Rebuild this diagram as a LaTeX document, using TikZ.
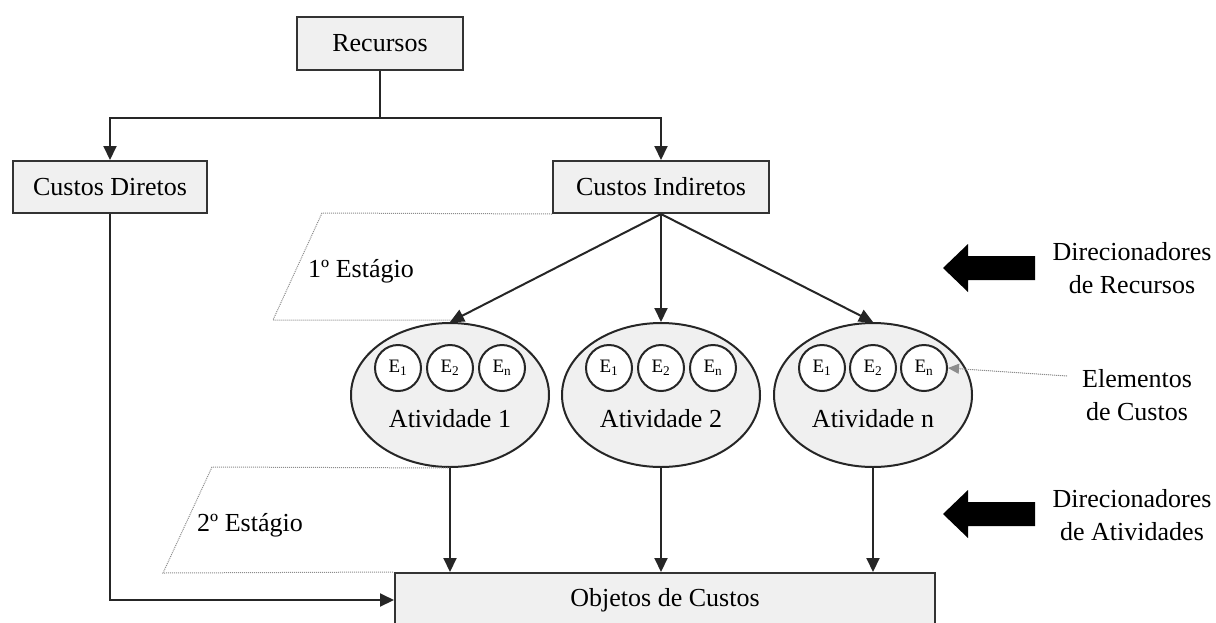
\documentclass[tikz,border=0pt]{standalone}
\usepackage{fontspec}
\setmainfont{Liberation Serif}
\usetikzlibrary{arrows.meta,shapes.geometric}
\tikzset{
  caixa/.style={draw=black!80, fill=black!6, line width=2pt, inner sep=0pt},
  ativ/.style={ellipse, draw=black!85, fill=black!6, line width=2pt, minimum width=198pt, minimum height=144pt},
  elem/.style={circle, draw=black!85, fill=white, line width=2pt, minimum size=46pt, inner sep=0pt, font=\fontsize{19pt}{22pt}\selectfont},
  estagio/.style={draw=black!45, line width=1pt, densely dotted},
  fluxo/.style={->, line width=2pt, draw=black!85},
}
% seta grossa (direcionadores), a partir da ponta
\def\blocoseta{-- ++(25,24) -- ++(0,-12) -- ++(67,0) -- ++(0,-24) -- ++(-67,0) -- ++(0,-12) -- cycle}

\begin{document}
\begin{tikzpicture}[x=1pt, y=1pt, >={Triangle[length=14pt,width=13pt]}, font=\fontsize{26pt}{33pt}\selectfont]
  \useasboundingbox (0,0) rectangle (1216,-622);
  \clip (0,0) rectangle (1216,-622);
  % caixas
  \node[caixa, minimum width=166pt, minimum height=53pt] (rec) at (380,-43) {Recursos};
  \node[caixa, minimum width=194pt, minimum height=52pt] (cdir) at (110,-187) {Custos Diretos};
  \node[caixa, minimum width=216pt, minimum height=52pt] (cind) at (661,-187) {Custos Indiretos};
  \node[caixa, minimum width=540pt, minimum height=54pt] (obj) at (665,-600) {Objetos de Custos};
  % atividades
  \node[ativ] (at1) at (450,-395) {};
  \node[ativ] (at2) at (661,-395) {};
  \node[ativ] (atn) at (873,-395) {};
  \node (lat1) at ([yshift=-24pt]at1.center) {Atividade 1};
  \node (lat2) at ([yshift=-24pt]at2.center) {Atividade 2};
  \node (latn) at ([yshift=-24pt]atn.center) {Atividade n};
  % elementos de custos
  \node[elem] (at1e1) at (398,-368) {E\textsubscript{1}};
  \node[elem] (at1e2) at (450,-368) {E\textsubscript{2}};
  \node[elem] (at1en) at (502,-368) {E\textsubscript{n}};
  \node[elem] (at2e1) at (609,-368) {E\textsubscript{1}};
  \node[elem] (at2e2) at (661,-368) {E\textsubscript{2}};
  \node[elem] (at2en) at (713,-368) {E\textsubscript{n}};
  \node[elem] (atne1) at (822,-368) {E\textsubscript{1}};
  \node[elem] (atne2) at (873,-368) {E\textsubscript{2}};
  \node[elem] (atnen) at (924,-368) {E\textsubscript{n}};
  % estagios
  \draw[estagio] (cind.south west) -- (322,-213) -- (273,-320) -- (455,-320);
  \node (est1) at (361,-271) {1º Estágio};
  \draw[estagio] (at1.south) -- (212,-467) -- (163,-573) -- (obj.north west);
  \node (est2) at (250,-525) {2º Estágio};
  % fluxos
  \draw[fluxo] (rec.south) -- ++(0,-47) -| (cdir.north);
  \draw[fluxo] (rec.south) -- ++(0,-47) -| (cind.north);
  \draw[fluxo] (cdir.south) |- (obj.west);
  \draw[fluxo] (cind.south) -- (at1.north);
  \draw[fluxo] (cind.south) -- (at2.north);
  \draw[fluxo] (cind.south) -- (atn.north);
  \draw[fluxo] (at1.south) -- (at1.south |- obj.north);
  \draw[fluxo] (at2.south) -- (at2.south |- obj.north);
  \draw[fluxo] (atn.south) -- (atn.south |- obj.north);
  % direcionadores
  \fill (943,-268) \blocoseta;
  \node[align=center] (dirrec) at (1132,-268) {Direcionadores\\de Recursos};
  \fill (943,-514) \blocoseta;
  \node[align=center] (dirat) at (1132,-515) {Direcionadores\\de Atividades};
  \node[align=center] (elcus) at (1137,-395) {Elementos\\de Custos};
  \coordinate (pel) at (1067,-376);
  \draw[estagio, -{Triangle[length=11pt,width=10pt]}, fill=black!45] (pel) -- (atnen.east);
\end{tikzpicture}
\end{document}
